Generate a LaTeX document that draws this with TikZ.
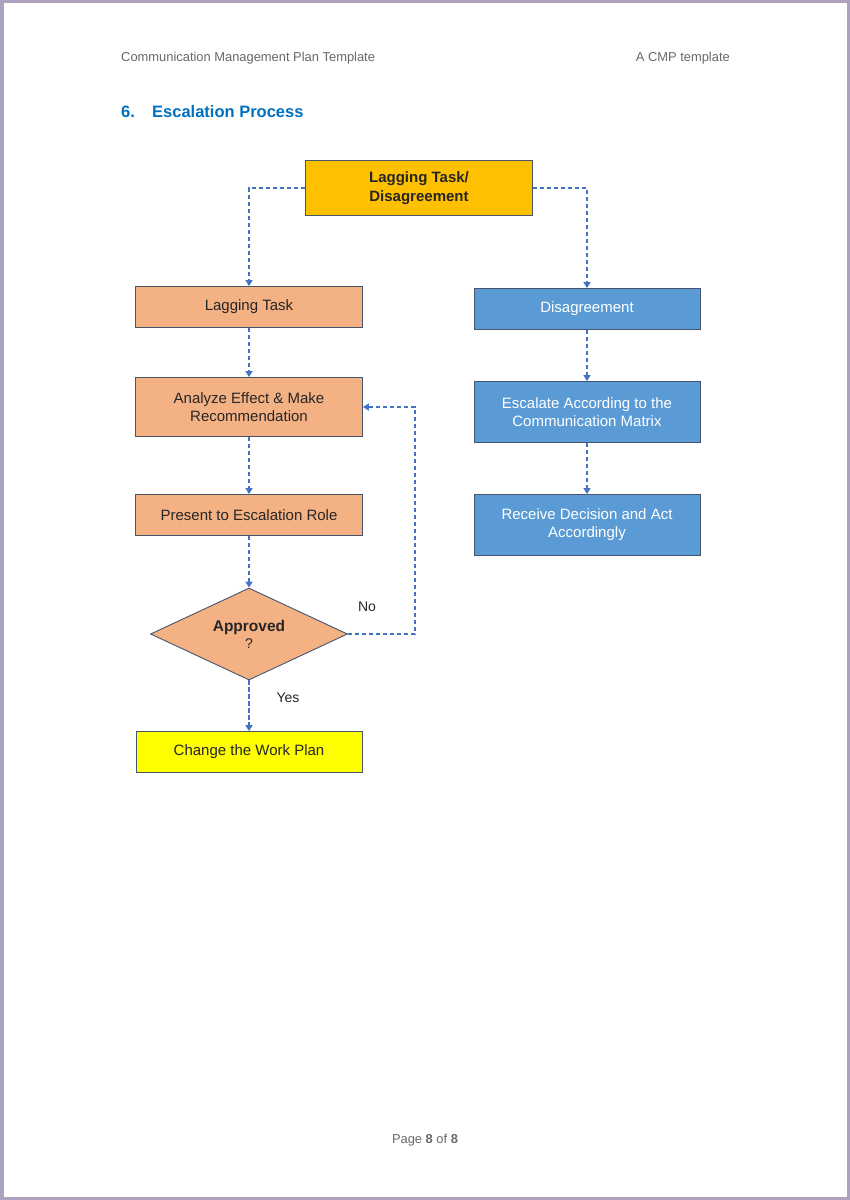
\documentclass[tikz,border=0pt]{standalone}
\usepackage{fontspec}
\setmainfont{Liberation Sans}
\usetikzlibrary{arrows.meta,shapes.geometric}

\definecolor{framecol}{RGB}{172,162,192}
\definecolor{hdrgray}{RGB}{105,105,105}
\definecolor{titleblue}{RGB}{0,112,192}
\definecolor{goldfill}{RGB}{255,192,0}
\definecolor{salmonfill}{RGB}{244,177,131}
\definecolor{bluefill}{RGB}{91,155,213}
\definecolor{yellowfill}{RGB}{255,255,0}
\definecolor{lineblue}{RGB}{68,114,196}
\definecolor{edgecol}{RGB}{70,84,110}

\begin{document}
\begin{tikzpicture}[x=1pt,y=-1pt,
  box/.style={draw=edgecol, line width=0.9pt, align=center, inner sep=0pt,
    font=\fontsize{15}{18}\selectfont, text=black!85},
  salmonbox/.style={box, fill=salmonfill, minimum width=227pt},
  bluebox/.style={box, fill=bluefill, text=white, minimum width=226pt},
  conn/.style={draw=lineblue, line width=1.6pt, dash pattern=on 4.5pt off 2.5pt,
    -{Triangle[width=7pt,length=6pt]}},
  hdr/.style={font=\fontsize{12.9}{14}\selectfont, text=hdrgray, inner sep=0pt},
  lbl/.style={font=\fontsize{14}{16}\selectfont, text=black!85, inner sep=0pt}
]
% page and frame
\path[use as bounding box] (0,0) rectangle (850,1200);
\fill[framecol] (0,0) rectangle (850,1200);
\fill[white] (4,3) rectangle (847,1197);

% header
\node[hdr, anchor=west] (hl) at (121,58) {Communication Management Plan Template};
\node[hdr, anchor=east] (hr) at (730,58) {A CMP template};

% title
\node[anchor=west, inner sep=0pt, text=titleblue, font=\fontsize{16.5}{18}\bfseries] (tnum) at (121,111.5) {6.};
\node[anchor=west, inner sep=0pt, text=titleblue, font=\fontsize{16.5}{18}\bfseries] (ttl) at (152,111.5) {Escalation Process};

% nodes
\node[box, fill=goldfill, minimum width=227pt, minimum height=55pt, font=\fontsize{15}{19.5}\bfseries] (top) at (419,188) {Lagging Task/\\Disagreement};
\node[salmonbox, minimum height=41pt] (lag) at (249,307) {Lagging Task};
\node[salmonbox, minimum height=59pt] (ana) at (249,407) {Analyze Effect \& Make\\Recommendation};
\node[salmonbox, minimum height=41pt] (pres) at (249,515) {Present to Escalation Role};
\node[box, shape=diamond, shape aspect=2.1, fill=salmonfill, minimum width=197pt, minimum height=92pt, font=\fontsize{15.5}{17}\selectfont] (dia) at (249,634) {\textbf{Approved}\\[0pt]{\fontsize{14}{16}\selectfont ?}};
\node[box, fill=yellowfill, minimum width=226pt, minimum height=41pt] (chg) at (249,752) {Change the Work Plan};

\node[bluebox, minimum height=41pt] (dis) at (587,309) {Disagreement};
\node[bluebox, minimum height=61pt] (esc) at (587,412) {Escalate According to the\\Communication Matrix};
\node[bluebox, minimum height=61pt] (rec) at (587,525) {Receive Decision and Act\\Accordingly};

% connectors
\draw[conn] (top.west) -| (lag.north);
\draw[conn] (top.east) -| (dis.north);
\draw[conn] (lag.south) -- (ana.north);
\draw[conn] (ana.south) -- (pres.north);
\draw[conn] (pres.south) -- (dia.north);
\draw[conn] (dia.south) -- (chg.north);
\coordinate (fb) at (415,634);
\draw[conn] (dia.east) -- (fb) |- (ana.east);
\draw[conn] (dis.south) -- (esc.north);
\draw[conn] (esc.south) -- (rec.north);

% labels
\node[lbl] (no) at (367,607) {No};
\node[lbl] (yes) at (288,698) {Yes};

% footer
\node[hdr, anchor=center] (ftr) at (425,1140) {Page \textbf{8} of \textbf{8}};
\end{tikzpicture}
\end{document}
